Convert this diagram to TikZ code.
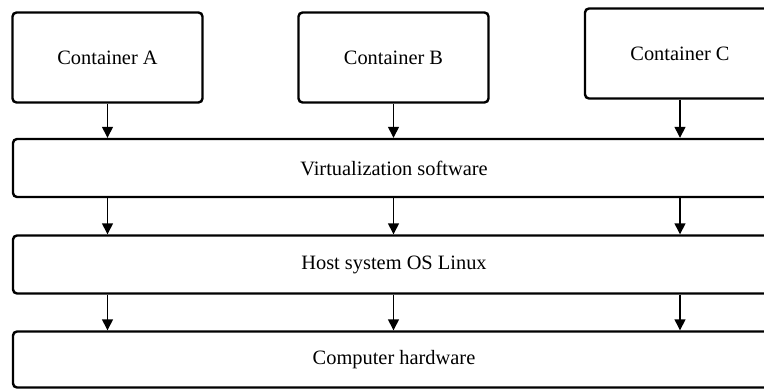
\documentclass[tikz,border=0pt]{standalone}
\usepackage{fontspec}
\setmainfont{Liberation Serif}
\usetikzlibrary{arrows.meta}

\begin{document}
\begin{tikzpicture}[x=0.5pt, y=-0.5pt,
    box/.style={draw=black, line width=1.2pt, rounded corners=2pt, inner sep=0pt, font=\fontsize{10.2}{12}\selectfont},
    cont/.style={box, minimum width=95pt, minimum height=45pt},
    layer/.style={box, minimum width=381pt, minimum height=29pt},
    arr/.style={-{Triangle[length=5.5pt,width=5.5pt]}, line width=0.7pt}]
    \useasboundingbox (0,0) rectangle (764,390);
    \clip (0,0) rectangle (764,390);
    \node[cont] (ca) at (107.5,57.5) {Container A};
    \node[cont] (cb) at (393.5,57.5) {Container B};
    \node[cont] (cc) at (680,53.5) {Container C};
    \node[layer] (virt) at (394,168) {Virtualization software};
    \node[layer] (host) at (394,264.5) {Host system OS Linux};
    \node[layer, minimum height=28pt] (hw) at (394,359.5) {Computer hardware};
    \draw [arr](ca.south) -- (ca.south |- virt.north);
    \draw [arr](cb.south) -- (cb.south |- virt.north);
    \draw [arr](cc.south) -- (cc.south |- virt.north);
    \draw [arr](ca |- virt.south) -- (ca |- host.north);
    \draw [arr](cb |- virt.south) -- (cb |- host.north);
    \draw [arr](cc |- virt.south) -- (cc |- host.north);
    \draw [arr](ca |- host.south) -- (ca |- hw.north);
    \draw [arr](cb |- host.south) -- (cb |- hw.north);
    \draw [arr](cc |- host.south) -- (cc |- hw.north);
\end{tikzpicture}
\end{document}
